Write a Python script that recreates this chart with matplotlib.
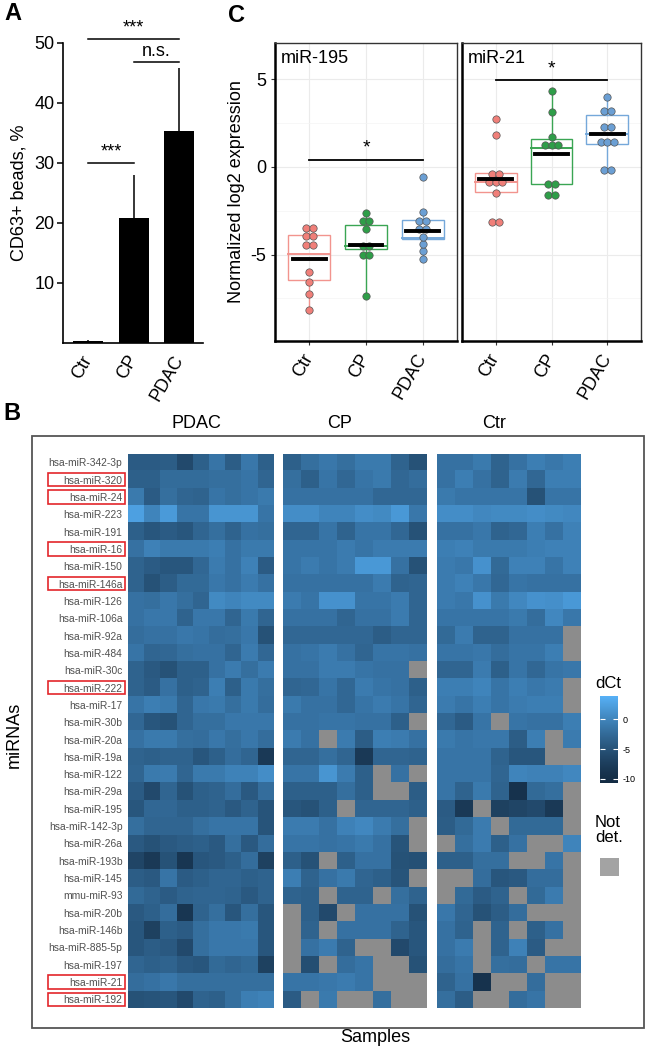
import matplotlib

matplotlib.use("Agg")
import matplotlib.pyplot as plt
import numpy as np
from matplotlib.cm import ScalarMappable
from matplotlib.colors import LinearSegmentedColormap, Normalize
from matplotlib.patches import Rectangle
from matplotlib.transforms import blended_transform_factory

plt.rcParams["font.family"] = ["Liberation Sans", "DejaVu Sans"]

W, H = 645, 1051
NA = np.nan

# ---------------- panel A: CD63+ beads ----------------
A_GROUPS = ["Ctr", "CP", "PDAC"]
A_MEAN = [0.3, 20.8, 35.3]
A_ERR = [0.2, 7.1, 10.5]
A_SIG = [(0, 2, 50.7, "***"), (1, 2, 46.8, "n.s."), (0, 1, 30.0, "***")]

# ---------------- panel C: dot/box plots ----------------
C_GROUPS = ["Ctr", "CP", "PDAC"]
C_COLORS = ["#F07F79", "#2E9E48", "#6B9FD4"]
C_LINE = ["#F2948E", "#3AA553", "#75A8DA"]

MIR195_POINTS = [
    [-3.5, -3.5, -3.95, -3.95, -4.45, -4.45, -6.0, -6.55, -7.25, -8.15],
    [-2.62, -3.1, -3.1, -3.55, -4.5, -4.5, -5.0, -5.0, -7.36],
    [-0.57, -2.57, -3.08, -3.08, -3.52, -3.52, -3.99, -4.4, -4.8, -5.23],
]
MIR195_Q1 = [-6.43, -4.66, -4.09]
MIR195_MED = [-4.94, -4.5, -4.07]
MIR195_Q3 = [-3.86, -3.34, -3.04]
MIR195_MEAN = [-5.28, -4.47, -3.67]
MIR195_WLO = [-8.15, -7.36, -5.23]
MIR195_WHI = [-3.5, -2.62, -2.57]
MIR195_SIG = (0, 2, 0.42, "*")

MIR21_POINTS = [
    [2.76, 1.81, -0.38, -0.38, -0.85, -0.85, -0.85, -1.48, -3.14, -3.14],
    [4.34, 3.14, 1.68, 1.24, 1.24, 1.24, -0.95, -0.95, -1.61, -1.61],
    [3.99, 3.18, 3.18, 2.28, 2.28, 1.43, 1.43, 1.43, -0.19, -0.19],
]
MIR21_Q1 = [-1.43, -0.95, 1.33]
MIR21_MED = [-0.85, 1.07, 1.90]
MIR21_Q3 = [-0.34, 1.62, 2.95]
MIR21_MEAN = [-0.70, 0.76, 1.86]
MIR21_WLO = [-1.43, -1.61, -0.19]
MIR21_WHI = [-0.34, 4.34, 3.99]
MIR21_SIG = (0, 2, 4.95, "*")

# ---------------- panel B: heatmap ----------------
MIRNAS = [
    "hsa-miR-342-3p", "hsa-miR-320", "hsa-miR-24", "hsa-miR-223", "hsa-miR-191",
    "hsa-miR-16", "hsa-miR-150", "hsa-miR-146a", "hsa-miR-126", "hsa-miR-106a",
    "hsa-miR-92a", "hsa-miR-484", "hsa-miR-30c", "hsa-miR-222", "hsa-miR-17",
    "hsa-miR-30b", "hsa-miR-20a", "hsa-miR-19a", "hsa-miR-122", "hsa-miR-29a",
    "hsa-miR-195", "hsa-miR-142-3p", "hsa-miR-26a", "hsa-miR-193b", "hsa-miR-145",
    "mmu-miR-93", "hsa-miR-20b", "hsa-miR-146b", "hsa-miR-885-5p", "hsa-miR-197",
    "hsa-miR-21", "hsa-miR-192",
]
HIGHLIGHT = ["hsa-miR-320", "hsa-miR-24", "hsa-miR-16", "hsa-miR-146a",
             "hsa-miR-222", "hsa-miR-21", "hsa-miR-192"]
HEAT_GROUPS = ["PDAC", "CP", "Ctr"]

PDAC_DCT = [
    [-4, -4, -3.8, -6, -3.5, -1.5, -3.8, -1.2, -3.5],
    [-3.5, -3.5, -2.3, -2.3, -2.3, -2, -2, -1.5, -3],
    [-1, -4, -2, -3, -3.2, -1.5, -2, -1.5, -1],
    [2.5, 0, 2, -1.5, -1.5, 1.5, 1.5, 1.5, -1.5],
    [-3.5, -4.5, -4, -4.5, -3, -2, -3.2, -1.8, -2],
    [-1.8, -0.3, -1, -1, -1, -0.5, -1.8, -1, -1],
    [-3.2, -4, -4.5, -4.5, -2.8, -0.8, -1.8, -0.3, -4],
    [-3.2, -5, -3.8, -2.5, -2.5, -1.2, -1.8, -0.8, -1.8],
    [-1.8, -2, -1.2, -2, -3, 0.5, 0, 0.5, 0.5],
    [-1.8, -1.2, -1.2, -3.2, -1.2, -1.2, -3, -1, -3],
    [-2.2, -1.8, -1.8, -1.2, -1.5, -2.2, -2, -1.2, -5],
    [-1.5, -3, -2.8, -2, -1.8, -1.8, -3, -0.8, -2.8],
    [-3.2, -4.2, -5, -3.5, -3.5, -1.8, -0.8, -2, -0.8],
    [-3.2, -4, -1.8, -3.5, -3.2, -0.5, -3.5, -1, -2],
    [-1.5, -0.5, -1, -3, -1.2, -1, -2, -1, -2.2],
    [-2.8, -4.5, -5, -3, -2, -2, -1.2, -1.2, -1.2],
    [-1.8, -1, -1, -2, -2.2, -1.2, -2, -1.2, -2.2],
    [-3.2, -3.5, -3.2, -3.2, -4.5, -3.5, -2.2, -3, -8],
    [-3, -1, -0.8, -3, -1, -1, -0.2, -0.2, 0.8],
    [-4, -6, -3, -5, -3.5, -3.2, -2.2, -4.2, -2.2],
    [-4.5, -2.8, -2.8, -3.5, -3.5, -3.2, -4.2, -3.2, -4.8],
    [-2, -3, -3, -3, -2, -1.5, -1.5, -1.5, -4.8],
    [-4.2, -5, -4.2, -3.8, -3.5, -4.2, -2, -4.2, -2.2],
    [-6.5, -8, -5, -8.5, -4.5, -4.2, -3.5, -2.2, -7],
    [-3.8, -4.2, -1.5, -4, -3.5, -3, -3, -3.5, -3.2],
    [-2.5, -3.2, -4, -3.2, -3, -3, -3.2, -4.2, -3.2],
    [-4.2, -3.5, -2.2, -8.5, -3.2, -2, -4.5, -2, -4.5],
    [-4.5, -7, -3.5, -4, -2, -1.2, -1.2, -1, -4.5],
    [-4.5, -3.8, -4.2, -6, -2, -1.2, -1.2, -1.2, -4.5],
    [-3, -3.5, -3.2, -4.2, -4.5, -2.5, -3, -2.5, -7],
    [-2.2, -1.8, -1.2, -2, -2, -2, -2, -2, -2],
    [-5, -4.8, -4.5, -6, -3.2, -3.5, -2, -0.5, -0.2],
]

CP_DCT = [
    [-3.5, -2, -1.2, -2, -1, -1, -3.2, -5],
    [-2, -3.5, -1.5, -2.8, -1.5, -1, -2.8, -2.2],
    [-1.8, -1.8, -1.8, -1.8, -1.8, -2.8, -2.8, -2.8],
    [0.8, 0.8, 0, 0, 0.8, 0.5, 1.8, -1.2],
    [-3, -3, -1.5, -3.2, -1.5, -1.5, -2.8, -5],
    [-1.5, -1.5, -1.5, -0.8, -1.5, -0.8, -0.8, -0.8],
    [-1.5, -0.8, -1.5, -0.8, 1.8, 1.8, -1.8, -5],
    [-1.8, -1.8, -1.8, -1.8, -1.8, -0.8, -3.2, -3],
    [-0.8, -1.5, 1.2, 1.2, -1.5, -1.5, -0.8, -3],
    [-1.8, -1.8, -1.8, -3, -1.8, -1.8, -0.8, -3],
    [-2.8, -2.8, -2.8, -2.8, -2.8, -3.8, -3, -3],
    [-1.8, -1.5, -0.8, -1.8, -3, -1.5, -1.5, -1.8],
    [-1.8, -1.8, -0.8, -0.8, -1.5, -1.8, -1.8, NA],
    [-3, -2.8, -1.5, -2.8, -0.8, -1.5, -1.8, -3.5],
    [-1, -1.8, -1.8, -2.8, -1.5, -0.8, -1.5, -3],
    [-1.8, -1.8, -1.5, -1.5, -1.8, -1.8, -3.5, NA],
    [-0.8, -1.8, NA, -0.8, -3.8, -0.5, -0.8, -1.8],
    [-3, -3, -2, -3, -8, -3, -3, -3.2],
    [-1.5, -1.5, 1.5, -0.8, -3.5, NA, -1.8, NA],
    [-3.5, -3.5, -3.5, -2, -3.5, NA, NA, -3.8],
    [-4.5, -5, -3.5, NA, -3, -3, -3, -3.5],
    [-0.8, -0.8, -1.8, -0.3, 0.3, -0.8, -2, NA],
    [-1.5, -1.5, -1.8, -1.5, -1, -1.8, -4.8, NA],
    [-3.5, -5, NA, -3.5, -1.8, -1.8, -5, -5.2],
    [-0.5, -3.2, -1.8, -1, -3, -3.5, -4.8, NA],
    [-3.2, -3.5, NA, -3.2, -3.2, NA, -2, -3.2],
    [NA, -3.5, -6, NA, -1.8, -1.8, -1.8, -5],
    [NA, -3.2, NA, -1.8, -1.8, -1.8, -3.2, -4.5],
    [NA, -1.8, -0.8, -3.2, NA, NA, -6, -4.5],
    [NA, -5.5, NA, -2.2, -1.5, NA, NA, -5],
    [-1.5, -1.5, -1.2, -0.8, -1.5, NA, NA, NA],
    [-4, NA, -1, NA, NA, -2, NA, NA],
]

CTR_DCT = [
    [-1.8, -1.8, -1, -3.2, -1.8, -0.5, -1.2, -0.5],
    [-1.8, -0.5, -1.8, -3.2, -0.8, -2.8, -0.5, -0.5],
    [-1, -1.5, -1.5, -1.5, -1.5, -5, -1.5, -1.5],
    [0.8, 0.8, 0.3, 0.5, 0.5, 0.8, 0.5, 0.3],
    [-1.8, -1.8, -1.2, -3.2, -2.8, -0.5, -1.8, -0.3],
    [-0.5, -0.3, -1, -1, -1, -0.5, -0.3, -0.3],
    [-0.8, -1.2, 1.2, -2.5, -0.3, -0.3, -1.5, -0.3],
    [-0.8, -0.3, -1.2, -2.8, -1.5, -1.8, -1.8, -1.8],
    [-0.8, -1.2, 1.2, -1, 0.3, 1.2, 1, 1.8],
    [-1.5, -1.5, -1.5, -1.5, -1, -2.2, 0.3, -1.2],
    [-2.5, -0.8, -3.2, -3.2, -1.8, -1.8, -1.8, NA],
    [-1.5, -1.5, -1.2, -2.2, -1.5, -1.5, -0.5, NA],
    [-3, -3, -0.8, -3.5, -1.5, -2.8, -1.5, -1.2],
    [-0.5, -0.5, 0, -1.5, -0.5, -1.2, -0.8, NA],
    [-0.8, -1.5, -0.5, -1.5, -0.8, -0.5, -0.5, NA],
    [-2.8, -4, -1.5, NA, -1.5, -1.8, -1.8, -0.5],
    [-1, -1.5, -1.2, -1.2, -3.8, -0.5, NA, -0.8],
    [-1.5, -1.5, -1.5, -3.2, -4.5, -4.5, NA, NA],
    [-1.5, -1.5, -1.5, -3, 0, -0.3, -0.3, 0.3],
    [-1.5, -3.2, -1, -3.2, -9, -2.5, -2, NA],
    [-4, -8, NA, -7, -6.5, -6, -8, NA],
    [-3.8, -2.5, -0.8, NA, -2.5, -2.5, -2.5, NA],
    [NA, -2, -0.8, -3.5, -1.8, NA, NA, 0],
    [-3.5, -3.5, -2, -2, NA, NA, -1.5, NA],
    [NA, NA, -2.2, -4.5, -4.2, -2.2, -2.2, NA],
    [NA, -2.5, -4, -3.2, NA, -2.5, -0.8, NA],
    [-1.2, -3, -5, -3.8, -2.2, NA, NA, NA],
    [-1.8, -3.2, NA, -3.2, NA, -3.5, -1.8, NA],
    [-1.8, -0.8, NA, -3.2, -0.3, -4, NA, NA],
    [-2.2, -1.5, NA, -2, -2.2, NA, -1.5, -1.5],
    [-3.2, -1.8, -9, NA, NA, -2.2, NA, NA],
    [-2, -3.8, NA, NA, -2.2, -1.5, NA, NA],
]

DCT_RANGE = (-10.7, 3.9)
DCT_TICKS = [0, -5, -10]
NA_COLOR = "#8C8C8C"


def px_axes(fig, x0, y0, x1, y1):
    return fig.add_axes([x0 / W, 1 - y1 / H, (x1 - x0) / W, (y1 - y0) / H])


def fig_text(fig, x, y, s, **kw):
    fig.text(x / W, 1 - y / H, s, **kw)


fig = plt.figure(figsize=(W / 100, H / 100), dpi=100)

# ======================= A =======================
axA = px_axes(fig, 63, 42.7, 203, 342.7)
xa = np.arange(len(A_GROUPS))
axA.bar(xa, A_MEAN, width=0.66, color="black", zorder=2)
axA.errorbar(xa, A_MEAN, yerr=[np.zeros(len(A_ERR)), A_ERR], fmt="none",
             ecolor="black", elinewidth=1.1, capsize=0, zorder=1)
axA.set_xlim(-0.55, 2.52)
axA.set_ylim(0, 50)
axA.set_yticks([10, 20, 30, 40, 50])
axA.set_xticks(xa)
axA.set_xticklabels(A_GROUPS, rotation=60, ha="right", va="center",
                    rotation_mode="anchor", fontsize=13)
axA.tick_params(axis="x", length=0, pad=10)
axA.tick_params(axis="y", length=4, width=1.1, labelsize=13, pad=2)
for s in ["top", "right"]:
    axA.spines[s].set_visible(False)
for s in ["left", "bottom"]:
    axA.spines[s].set_linewidth(1.2)
axA.set_ylabel("CD63+ beads, %", fontsize=13, labelpad=5)
for i, j, y, lab in A_SIG:
    axA.plot([i, j], [y, y], color="black", lw=1.1, clip_on=False)
    axA.text((i + j) / 2, y + 0.4, lab, ha="center", va="bottom",
             fontsize=13, clip_on=False)

fig_text(fig, 4, 2, "A", fontsize=17, fontweight="bold", va="top")

# ======================= C =======================
def dot_box(ax, points, q1, med, q3, mean, wlo, whi, sig, title):
    for k in range(len(C_GROUPS)):
        col = C_LINE[k]
        ax.add_patch(Rectangle((k - 0.375, q1[k]), 0.75, q3[k] - q1[k], fill=False,
                               edgecolor=col, lw=1.0, zorder=2))
        ax.plot([k - 0.375, k + 0.375], [med[k], med[k]], color=col, lw=1.4, zorder=2)
        if whi[k] > q3[k]:
            ax.plot([k, k], [q3[k], whi[k]], color=col, lw=1.0, zorder=2)
        if wlo[k] < q1[k]:
            ax.plot([k, k], [wlo[k], q1[k]], color=col, lw=1.0, zorder=2)
        vals = np.array(points[k])
        for v in np.unique(vals):
            n = int(np.sum(vals == v))
            offs = (np.arange(n) - (n - 1) / 2) * 0.12
            ax.scatter(k + offs, np.full(n, v), s=28, color=C_COLORS[k],
                       edgecolor="#555555", linewidth=0.5, zorder=3)
        ax.plot([k - 0.29, k + 0.29], [mean[k], mean[k]], color="black", lw=2.8, zorder=4)
    i, j, y, lab = sig
    ax.plot([i, j], [y, y], color="black", lw=1.3, zorder=4)
    ax.text((i + j) / 2, y + 0.15, lab, ha="center", va="bottom", fontsize=14)
    ax.set_xlim(-0.6, 2.6)
    ax.set_ylim(-9.93, 7.07)
    ax.set_yticks([-5, 0, 5])
    ax.set_yticks([-7.5, -2.5, 2.5], minor=True)
    ax.set_xticks(range(len(C_GROUPS)))
    ax.set_xticklabels(C_GROUPS, rotation=60, ha="right", va="center",
                       rotation_mode="anchor", fontsize=13)
    ax.grid(which="major", color="#EBEBEB", lw=0.8, zorder=0)
    ax.grid(which="minor", axis="y", color="#F4F4F4", lw=0.5, zorder=0)
    ax.set_axisbelow(True)
    ax.tick_params(axis="both", which="major", length=3, color="#333333", labelsize=13)
    ax.tick_params(axis="x", pad=7)
    ax.tick_params(which="minor", length=0)
    for s in ["left", "bottom"]:
        ax.spines[s].set_linewidth(1.8)
        ax.spines[s].set_color("black")
    for s in ["top", "right"]:
        ax.spines[s].set_linewidth(1.0)
        ax.spines[s].set_color("#333333")
    ax.text(0.03, 0.975, title, transform=ax.transAxes, ha="left", va="top", fontsize=13)


axC1 = px_axes(fig, 275, 43, 457, 341)
dot_box(axC1, MIR195_POINTS, MIR195_Q1, MIR195_MED, MIR195_Q3, MIR195_MEAN,
        MIR195_WLO, MIR195_WHI, MIR195_SIG, "miR-195")
axC1.set_yticklabels(["-5", "0", "5"])
axC1.set_ylabel("Normalized log2 expression", fontsize=13, labelpad=4)

axC2 = px_axes(fig, 462, 43, 641, 341)
dot_box(axC2, MIR21_POINTS, MIR21_Q1, MIR21_MED, MIR21_Q3, MIR21_MEAN,
        MIR21_WLO, MIR21_WHI, MIR21_SIG, "miR-21")
axC2.tick_params(axis="y", left=False, labelleft=False)

fig_text(fig, 228, 4, "C", fontsize=17, fontweight="bold", va="top")

# ======================= B =======================
fig.add_artist(Rectangle((32 / W, 1 - 1028 / H), (644 - 32) / W, (1028 - 436) / H,
                         transform=fig.transFigure, fill=False,
                         edgecolor="#555555", lw=1.3))
fig_text(fig, 3, 402, "B", fontsize=17, fontweight="bold", va="top")

cmap = LinearSegmentedColormap.from_list("dct", ["#132B43", "#56B1F7"], gamma=1.3)
cmap = cmap.with_extremes(bad=NA_COLOR)
norm = Normalize(*DCT_RANGE)

heat_x = [(128, 274), (283, 427), (437, 581)]
heat_data = [PDAC_DCT, CP_DCT, CTR_DCT]
heat_axes = []
for (x0, x1), mat in zip(heat_x, heat_data):
    ax = px_axes(fig, x0, 453.7, x1, 1008)
    ax.imshow(np.ma.masked_invalid(np.array(mat, dtype=float)), cmap=cmap, norm=norm,
              aspect="auto", interpolation="nearest")
    ax.set_xticks([])
    ax.set_yticks([])
    for s in ax.spines.values():
        s.set_visible(False)
    heat_axes.append(ax)

axP = heat_axes[0]
axP.set_yticks(range(len(MIRNAS)))
axP.set_yticklabels(MIRNAS, fontsize=7.4, color="#505050")
axP.tick_params(axis="y", length=0, pad=4)
trans = blended_transform_factory(fig.transFigure, axP.transData)
for name in HIGHLIGHT:
    r = MIRNAS.index(name)
    axP.add_patch(Rectangle((47.7 / W, r - 0.38), (125 - 47.7) / W, 0.76,
                            transform=trans, fill=False, edgecolor="#E3262B",
                            lw=1.2, clip_on=False))

for (cx, lab) in zip([196, 340, 494], HEAT_GROUPS):
    fig_text(fig, cx, 423, lab, fontsize=13, ha="center", va="center")

fig_text(fig, 14, 735, "miRNAs", fontsize=13, rotation=90, ha="center", va="center")
fig_text(fig, 375, 1038, "Samples", fontsize=13, ha="center", va="center")

# legend
fig_text(fig, 595, 684, "dCt", fontsize=12, ha="left", va="center")
cax = px_axes(fig, 600, 696, 618, 783)
cb = fig.colorbar(ScalarMappable(norm=norm, cmap=cmap), cax=cax, ticks=DCT_TICKS)
cb.outline.set_visible(False)
cax.set_yticklabels([str(t) for t in DCT_TICKS])
cax.yaxis.set_ticks_position("both")
cax.tick_params(direction="in", color="white", length=3.5, width=0.8,
                labelsize=6.5, pad=3, labelleft=False, labelright=True)
fig_text(fig, 595, 815, "Not\ndet.", fontsize=12, ha="left", va="top", linespacing=1.0)
fig.add_artist(Rectangle((600 / W, 1 - 876 / H), 19 / W, 18 / H,
                         transform=fig.transFigure, facecolor="#A3A3A3", edgecolor="none"))

fig.savefig("out.png", dpi=100)
